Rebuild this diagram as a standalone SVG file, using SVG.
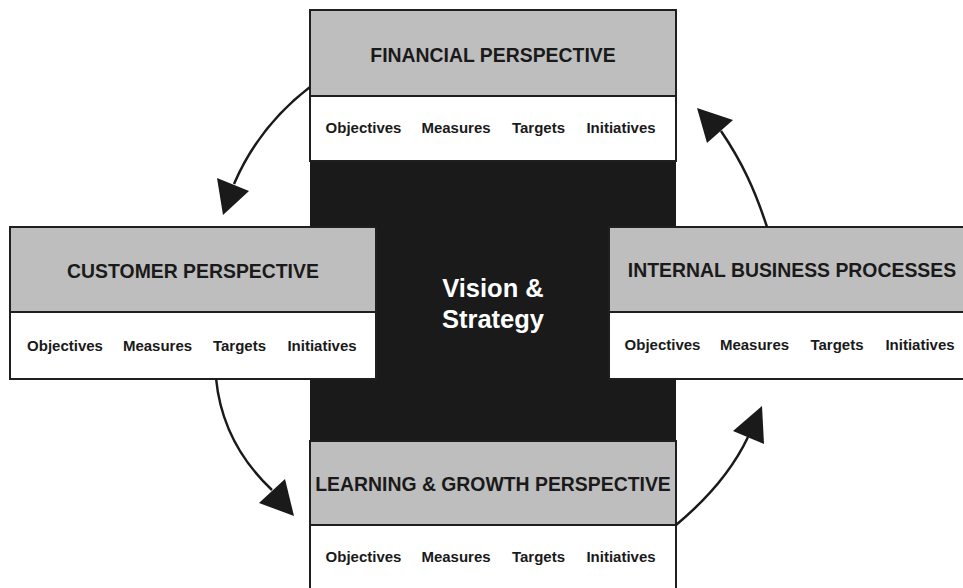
<svg xmlns="http://www.w3.org/2000/svg" width="963" height="588" viewBox="0 0 963 588">
<defs>
<style>
.hdr{fill:#bebebe;stroke:#1f1f1f;stroke-width:2}
.body{fill:#ffffff;stroke:#1f1f1f;stroke-width:2}
.ht{font-family:"Liberation Sans",Arial,sans-serif;font-weight:bold;font-size:19.4px;fill:#1a1a1a;text-anchor:middle}
.it{font-family:"Liberation Sans",Arial,sans-serif;font-weight:bold;font-size:15px;fill:#1a1a1a;text-anchor:middle}
.vs{font-family:"Liberation Sans",Arial,sans-serif;font-weight:bold;font-size:25.5px;fill:#ffffff;text-anchor:middle}
.conn{fill:none;stroke:#1a1a1a;stroke-width:2.5}
.head{fill:#1a1a1a;stroke:none}
</style>
</defs>
<rect width="963" height="588" fill="#ffffff"/>
<g id="vision">
<rect x="310" y="160" width="366" height="282" fill="#1a1a1a"/>
<text class="vs" x="493" y="297">Vision &amp;</text>
<text class="vs" x="493" y="328">Strategy</text>
</g>
<g id="financial">
<rect class="body" x="310" y="96" width="366" height="65"/>
<rect class="hdr" x="310" y="10" width="366" height="86"/>
<text class="ht" x="493" y="62">FINANCIAL PERSPECTIVE</text>
<text class="it" x="363.5" y="133">Objectives</text>
<text class="it" x="456" y="133">Measures</text>
<text class="it" x="538.5" y="133">Targets</text>
<text class="it" x="621" y="133">Initiatives</text>
</g>
<g id="customer">
<rect class="body" x="10" y="312" width="366" height="67"/>
<rect class="hdr" x="10" y="227" width="366" height="85"/>
<text class="ht" x="193" y="278">CUSTOMER PERSPECTIVE</text>
<text class="it" x="65" y="351">Objectives</text>
<text class="it" x="157.5" y="351">Measures</text>
<text class="it" x="239.5" y="351">Targets</text>
<text class="it" x="322" y="351">Initiatives</text>
</g>
<g id="internal">
<rect class="body" x="609" y="312" width="366" height="67"/>
<rect class="hdr" x="609" y="227" width="366" height="85"/>
<text class="ht" x="792" y="277">INTERNAL BUSINESS PROCESSES</text>
<text class="it" x="662.5" y="350">Objectives</text>
<text class="it" x="754.5" y="350">Measures</text>
<text class="it" x="837" y="350">Targets</text>
<text class="it" x="920" y="350">Initiatives</text>
</g>
<g id="learning">
<rect class="body" x="310" y="525" width="366" height="80"/>
<rect class="hdr" x="310" y="441" width="366" height="84"/>
<text class="ht" x="493" y="491">LEARNING &amp; GROWTH PERSPECTIVE</text>
<text class="it" x="363.5" y="562">Objectives</text>
<text class="it" x="456" y="562">Measures</text>
<text class="it" x="538.5" y="562">Targets</text>
<text class="it" x="621" y="562">Initiatives</text>
</g>
<g id="connectors">
<path class="conn" d="M310,87 C280,110 252,142 234,184"/>
<polygon class="head" points="217,178 249,191 223,215"/>
<path class="conn" d="M216,378 C220,420 238,458 272,490"/>
<polygon class="head" points="285,479 259,503 294,516"/>
<path class="conn" d="M676,525 C700,505 730,475 748,437"/>
<polygon class="head" points="762,406 733,431 764,444"/>
<path class="conn" d="M767,227 C755,190 742,162 721,131"/>
<polygon class="head" points="697,108 733,120 707,143"/>
</g>
</svg>
